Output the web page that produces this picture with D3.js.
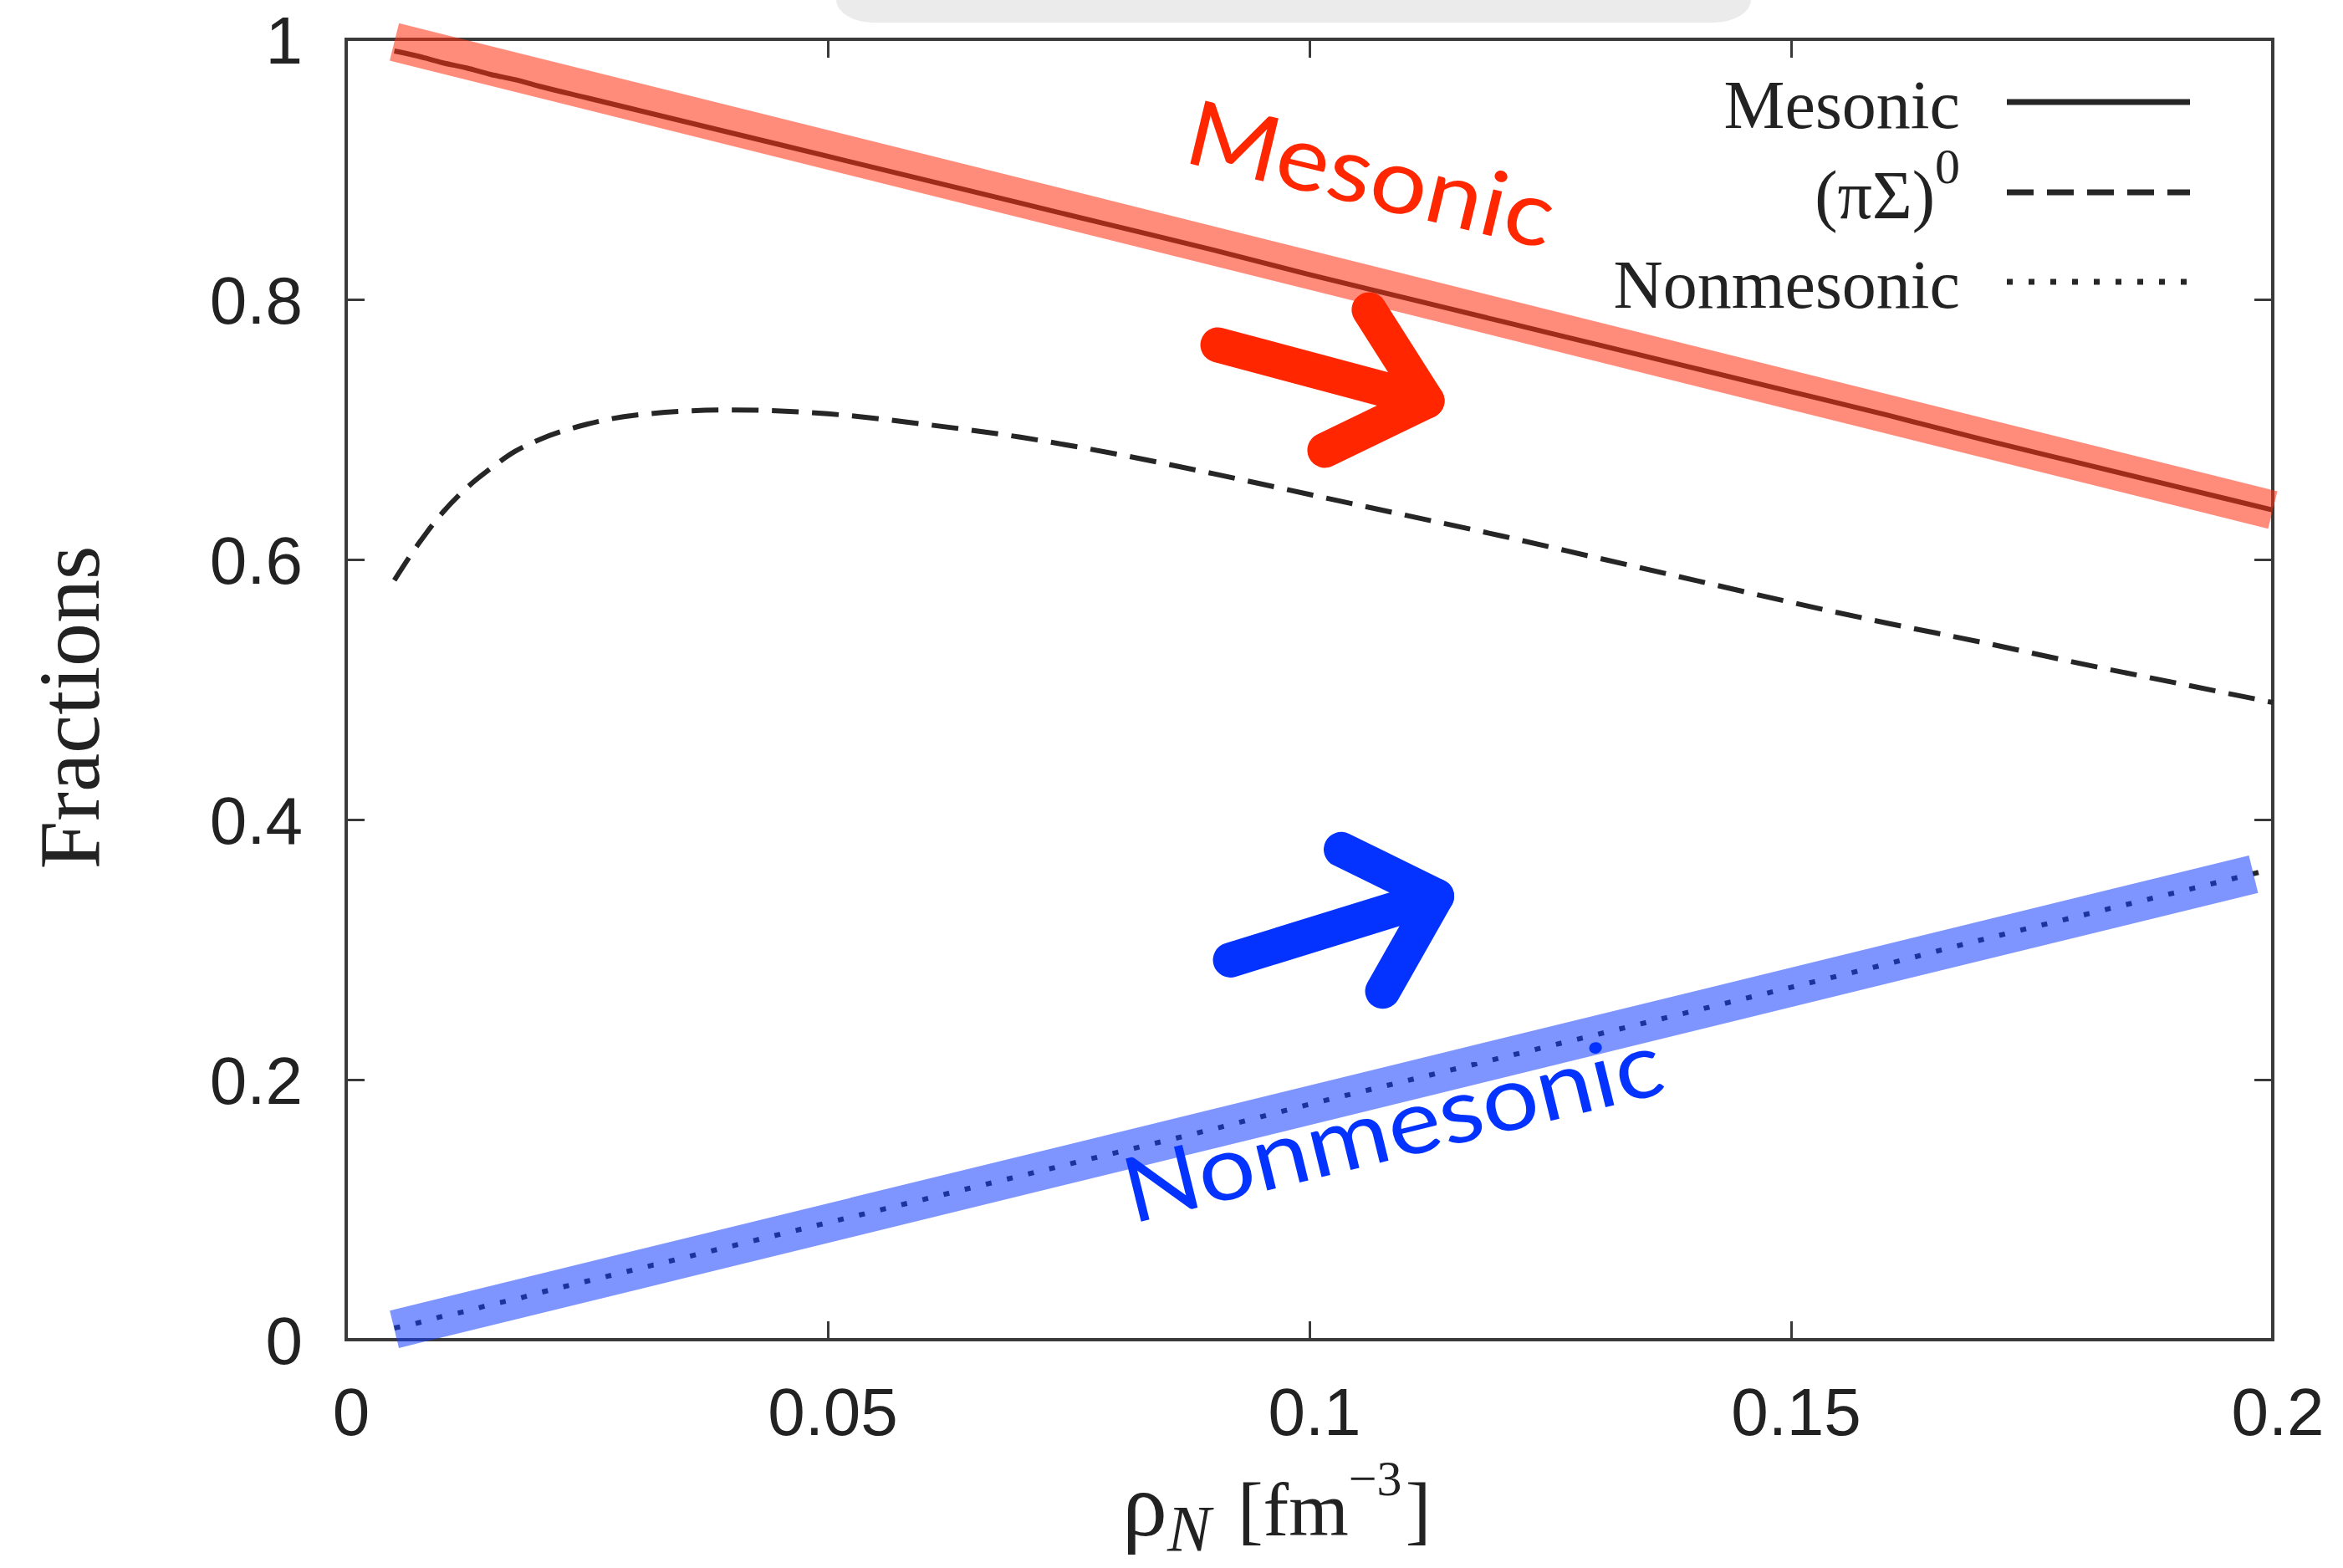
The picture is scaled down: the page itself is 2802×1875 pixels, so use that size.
<!DOCTYPE html>
<html>
<head>
<meta charset="utf-8">
<script src="https://cdn.jsdelivr.net/npm/d3@7"></script>
<style>
  html, body { margin: 0; padding: 0; background: #fff; }
  svg { display: block; }
</style>
</head>
<body>
<svg id="chart" width="2802" height="1875"></svg>
<script>
// ---------------- data ----------------
const density = [0.005, 0.0075, 0.01, 0.0125, 0.015, 0.0175, 0.02, 0.025, 0.03, 0.04, 0.05, 0.06, 0.07, 0.08,
                 0.09, 0.1, 0.11, 0.12, 0.13, 0.14, 0.15, 0.16, 0.17, 0.18, 0.19, 0.2];
const mesonic = [0.991, 0.987, 0.982, 0.978, 0.973, 0.969, 0.964, 0.955, 0.946, 0.928, 0.910, 0.892, 0.874, 0.856,
                 0.838, 0.819, 0.801, 0.783, 0.765, 0.747, 0.729, 0.711, 0.692, 0.674, 0.656, 0.638];
const piSigma = [0.584, 0.612, 0.636, 0.655, 0.670, 0.683, 0.692, 0.704, 0.711, 0.715, 0.712, 0.704, 0.694, 0.681,
                 0.666, 0.650, 0.634, 0.618, 0.601, 0.584, 0.567, 0.551, 0.536, 0.520, 0.505, 0.490];
const nonmesonic = [0.009, 0.013, 0.018, 0.022, 0.027, 0.031, 0.036, 0.045, 0.054, 0.072, 0.090, 0.108, 0.126, 0.144,
                    0.162, 0.181, 0.199, 0.217, 0.235, 0.253, 0.271, 0.289, 0.308, 0.326, 0.344, 0.362];

const xTicks = [0, 0.05, 0.1, 0.15, 0.2];
const xTickLabels = ["0", "0.05", "0.1", "0.15", "0.2"];
const yTicks = [0, 0.2, 0.4, 0.6, 0.8, 1];
const yTickLabels = ["0", "0.2", "0.4", "0.6", "0.8", "1"];

const legendLabels = ["Mesonic", "(πΣ)", "Nonmesonic"];

// annotation overlays (data coordinates)
const redBand = [[0.005, 0.998], [0.2, 0.638]];
const blueBand = [[0.005, 0.008], [0.198, 0.358]];
const redArrowShaft = [[0.0905, 0.765], [0.1122, 0.722]];
const redArrowHead = [[0.1062, 0.792], [0.1122, 0.722], [0.1016, 0.684]];
const blueArrowShaft = [[0.0918, 0.292], [0.1132, 0.341]];
const blueArrowHead = [[0.1033, 0.377], [0.1132, 0.341], [0.1076, 0.268]];
const redLabel = {text: "Mesonic", x: 0.0867, y: 0.906};
const blueLabel = {text: "Nonmesonic", x: 0.0816, y: 0.0893};

// ---------------- layout ----------------
const margin = {left: 414, right: 2718, top: 47, bottom: 1602};
const svg = d3.select("#chart");

svg.append("rect").attr("x", 0).attr("y", 0).attr("width", 2802).attr("height", 1875).attr("fill", "#fff");

// grey rounded tab at the top
svg.append("rect")
  .attr("x", 1000).attr("y", -60).attr("width", 1094).attr("height", 87)
  .attr("rx", 45).attr("ry", 27).attr("fill", "#ebebeb");

const x = d3.scaleLinear().domain([0, 0.2]).range([margin.left, margin.right]);
const y = d3.scaleLinear().domain([0, 1]).range([margin.bottom, margin.top]);

const axisColor = "#3a3a3a";
const tickLen = 22;

// axes with inward ticks (bottom, left) and mirrored (top, right)
const gx = svg.append("g").attr("transform", `translate(0,${margin.bottom})`)
  .call(d3.axisBottom(x).tickValues(xTicks).tickSizeInner(-tickLen).tickSizeOuter(0).tickFormat(""));
const gxTop = svg.append("g").attr("transform", `translate(0,${margin.top})`)
  .call(d3.axisTop(x).tickValues(xTicks).tickSizeInner(-tickLen).tickSizeOuter(0).tickFormat(""));
const gy = svg.append("g").attr("transform", `translate(${margin.left},0)`)
  .call(d3.axisLeft(y).tickValues(yTicks).tickSizeInner(-tickLen).tickSizeOuter(0).tickFormat(""));
const gyR = svg.append("g").attr("transform", `translate(${margin.right},0)`)
  .call(d3.axisRight(y).tickValues(yTicks).tickSizeInner(-tickLen).tickSizeOuter(0).tickFormat(""));
[gx, gxTop, gy, gyR].forEach(g => {
  g.select(".domain").remove();
  g.selectAll(".tick line").attr("stroke", axisColor).attr("stroke-width", 3);
});

// frame
svg.append("rect")
  .attr("x", margin.left).attr("y", margin.top)
  .attr("width", margin.right - margin.left).attr("height", margin.bottom - margin.top)
  .attr("fill", "none").attr("stroke", axisColor).attr("stroke-width", 4);

// tick labels
svg.append("g").selectAll("text").data(xTicks).join("text")
  .attr("x", d => x(d) + 6).attr("y", 1716)
  .attr("text-anchor", "middle")
  .attr("font-family", "'Liberation Sans', Arial, sans-serif")
  .attr("font-size", 80).attr("fill", "#222")
  .text((d, i) => xTickLabels[i]);

svg.append("g").selectAll("text").data(yTicks).join("text")
  .attr("x", 362).attr("y", d => y(d) + 29)
  .attr("text-anchor", "end")
  .attr("font-family", "'Liberation Sans', Arial, sans-serif")
  .attr("font-size", 80).attr("fill", "#222")
  .text((d, i) => yTickLabels[i]);

// axis titles
svg.append("text")
  .attr("transform", "translate(118,846) rotate(-90)")
  .attr("text-anchor", "middle")
  .attr("font-family", "'Liberation Serif', 'Times New Roman', serif")
  .attr("font-size", 104).attr("fill", "#222")
  .text("Fractions");

const xt = svg.append("text")
  .attr("x", 1342).attr("y", 1836)
  .attr("font-family", "'Liberation Serif', 'Times New Roman', serif")
  .attr("font-size", 92).attr("fill", "#222");
xt.append("tspan").attr("font-size", 108).text("ρ");
xt.append("tspan").attr("font-style", "italic").attr("font-size", 78).attr("dy", 18).text("N");
xt.append("tspan").attr("dy", -18).attr("dx", 32).text("[fm");
xt.append("tspan").attr("font-size", 60).attr("dy", -48).text("−3");
xt.append("tspan").attr("dy", 48).attr("dx", 4).text("]");

// ---------------- series ----------------
const line = d3.line().x(d => x(d[0])).y(d => y(d[1])).curve(d3.curveMonotoneX);
const seriesColor = "#262626";

svg.append("path")
  .datum(density.map((d, i) => [d, mesonic[i]]))
  .attr("d", line).attr("fill", "none")
  .attr("stroke", seriesColor).attr("stroke-width", 6);

svg.append("path")
  .datum(density.map((d, i) => [d, piSigma[i]]))
  .attr("d", line).attr("fill", "none")
  .attr("stroke", seriesColor).attr("stroke-width", 6)
  .attr("stroke-dasharray", "32,16");

svg.append("path")
  .datum(density.map((d, i) => [d, nonmesonic[i]]))
  .attr("d", line).attr("fill", "none")
  .attr("stroke", seriesColor).attr("stroke-width", 6)
  .attr("stroke-dasharray", "7,19");

// ---------------- legend ----------------
const legendRows = [
  {y: 122, dash: null},
  {y: 230, dash: "32,16"},
  {y: 337, dash: "7,19"}
];
const lg = svg.append("g")
  .attr("font-family", "'Liberation Serif', 'Times New Roman', serif")
  .attr("font-size", 82).attr("fill", "#222");
legendRows.forEach((r, i) => {
  lg.append("line")
    .attr("x1", 2400).attr("x2", 2619).attr("y1", r.y).attr("y2", r.y)
    .attr("stroke", seriesColor).attr("stroke-width", 7)
    .attr("stroke-dasharray", r.dash);
  const t = lg.append("text").attr("x", 2344).attr("y", r.y + 31).attr("text-anchor", "end");
  if (i === 1) {
    t.append("tspan").text(legendLabels[i]);
    t.append("tspan").attr("font-size", 60).attr("dy", -42).text("0");
  } else {
    t.text(legendLabels[i]);
  }
});

// ---------------- highlight overlays ----------------
const straight = d3.line().x(d => x(d[0])).y(d => y(d[1]));
svg.append("path").datum(redBand).attr("d", straight)
  .attr("fill", "none").attr("stroke", "rgb(255,50,20)").attr("stroke-opacity", 0.56)
  .attr("stroke-width", 46).attr("stroke-linecap", "butt");
svg.append("path").datum(blueBand).attr("d", straight)
  .attr("fill", "none").attr("stroke", "rgb(20,60,255)").attr("stroke-opacity", 0.55)
  .attr("stroke-width", 46).attr("stroke-linecap", "butt");

const red = "#ff2600", blue = "#0433ff";
[[redArrowShaft, red], [redArrowHead, red], [blueArrowShaft, blue], [blueArrowHead, blue]].forEach(([pts, c]) => {
  svg.append("path").datum(pts).attr("d", straight)
    .attr("fill", "none").attr("stroke", c).attr("stroke-width", 42)
    .attr("stroke-linecap", "round").attr("stroke-linejoin", "round");
});

svg.append("text")
  .attr("transform", `translate(${x(redLabel.x)},${y(redLabel.y)}) rotate(13.5)`)
  .attr("font-family", "Lato, 'Open Sans', sans-serif")
  .attr("font-size", 108).attr("fill", red)
  .attr("textLength", 448).attr("lengthAdjust", "spacingAndGlyphs")
  .text(redLabel.text);

svg.append("text")
  .attr("transform", `translate(${x(blueLabel.x)},${y(blueLabel.y)}) rotate(-13.8)`)
  .attr("font-family", "Lato, 'Open Sans', sans-serif")
  .attr("font-size", 108).attr("fill", blue)
  .attr("textLength", 660).attr("lengthAdjust", "spacingAndGlyphs")
  .text(blueLabel.text);
</script>
</body>
</html>
